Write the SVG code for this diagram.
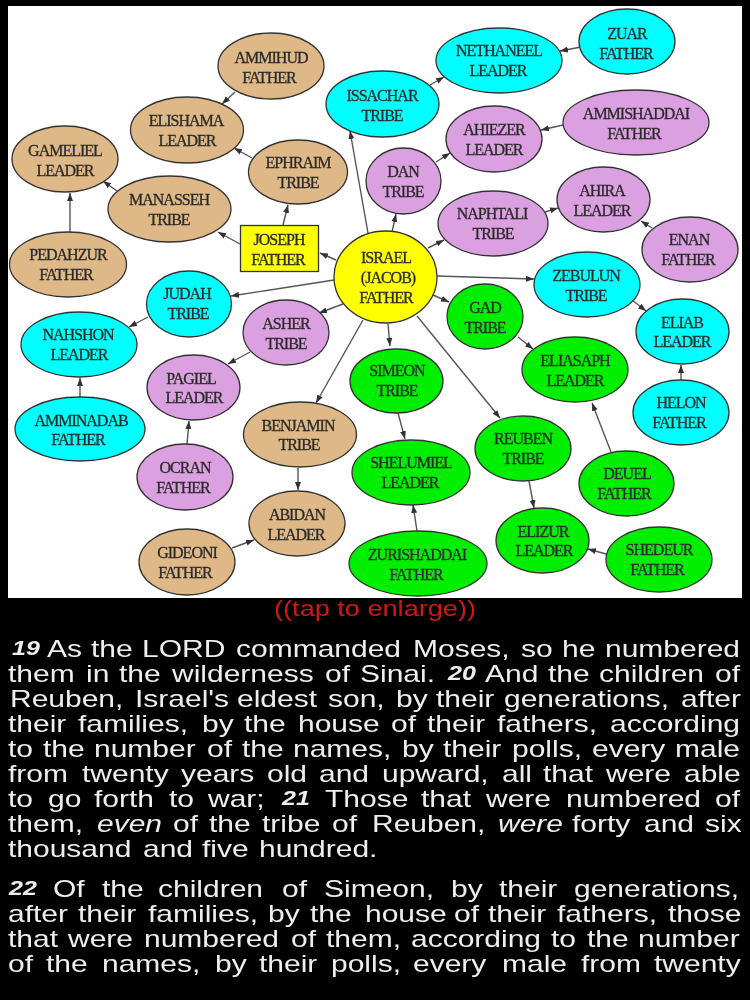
<svg xmlns="http://www.w3.org/2000/svg" width="750" height="1000" viewBox="0 0 750 1000">
<style>
.n{stroke:#333;stroke-width:1.3}
.tan{fill:#deb887}.cy{fill:#0ff}.pl{fill:#dba0e0}.gr{fill:#0e0}.ye{fill:#ff0}
.l{font-family:"Liberation Serif",serif;font-size:16px;letter-spacing:-1px;text-anchor:middle;fill:#2a2a2a;stroke:#2a2a2a;stroke-width:.3}
.e{fill:none;stroke:#555;stroke-width:1.4;marker-end:url(#a)}
.b{font-family:"Liberation Sans",Arial,sans-serif;font-size:24px;fill:#eee}
.v{font-weight:bold;font-style:italic;font-size:20px}
.i{font-style:italic}
</style>
<defs>
<marker id="a" markerUnits="userSpaceOnUse" markerWidth="9" markerHeight="8" refX="8" refY="4" orient="auto"><path d="M0 1L8 4L0 7z" fill="#333"/></marker>
<filter id="s" x="-2%" y="-2%" width="104%" height="104%"><feGaussianBlur stdDeviation="0.5"/></filter>
</defs>
<rect width="750" height="1000" fill="#000"/>
<rect x="8" y="6" width="734" height="592" fill="#fff"/>
<g filter="url(#s)">
<g id="connectors">
<path class="e" d="M235 92L222 104"/><path class="e" d="M252 158L234 148"/><path class="e" d="M117 191L103 181"/><path class="e" d="M70 232L70 193"/>
<path class="e" d="M240 244L218 232"/><path class="e" d="M283 225L288 205"/><path class="e" d="M336 260L320 253"/><path class="e" d="M334 280L231 296"/>
<path class="e" d="M148 317L129 327"/><path class="e" d="M368 233L350 131"/><path class="e" d="M430 85L444 77"/><path class="e" d="M581 47L560 51"/>
<path class="e" d="M436 162L450 153"/><path class="e" d="M563 125L541 130"/><path class="e" d="M392 232L396 214"/><path class="e" d="M428 248L444 240"/>
<path class="e" d="M545 212L558 208"/><path class="e" d="M652 228L641 221"/><path class="e" d="M437 276L534 279"/><path class="e" d="M632 300L646 311"/>
<path class="e" d="M681 380L681 365"/><path class="e" d="M433 295L449 302"/><path class="e" d="M518 337L533 349"/><path class="e" d="M611 452L592 403"/>
<path class="e" d="M417 316L500 418"/><path class="e" d="M529 481L534 508"/><path class="e" d="M606 554L588 549"/><path class="e" d="M388 324L390 346"/>
<path class="e" d="M398 413L405 439"/><path class="e" d="M417 531L413 505"/><path class="e" d="M343 304L319 313"/><path class="e" d="M250 352L228 364"/>
<path class="e" d="M363 320L316 403"/><path class="e" d="M187 444L189 421"/><path class="e" d="M298 468L298 490"/><path class="e" d="M232 548L254 540"/>
<path class="e" d="M80 397L80 378"/>
</g>
<g id="ammihud"><ellipse class="n tan" cx="271" cy="66" rx="53" ry="33"/><text class="l" x="271" y="63">AMMIHUD</text><text class="l" x="269" y="83">FATHER</text></g>
<g id="elishama"><ellipse class="n tan" cx="187" cy="130" rx="56.5" ry="33"/><text class="l" x="186" y="126">ELISHAMA</text><text class="l" x="187" y="146">LEADER</text></g>
<g id="gameliel"><ellipse class="n tan" cx="65" cy="159" rx="53" ry="33"/><text class="l" x="65" y="156">GAMELIEL</text><text class="l" x="65" y="176">LEADER</text></g>
<g id="ephraim"><ellipse class="n tan" cx="298" cy="172" rx="49.5" ry="32"/><text class="l" x="298" y="168">EPHRAIM</text><text class="l" x="298" y="188">TRIBE</text></g>
<g id="manasseh"><ellipse class="n tan" cx="169.500" cy="209" rx="61.500" ry="33"/><text class="l" x="169" y="205">MANASSEH</text><text class="l" x="169" y="225">TRIBE</text></g>
<g id="pedahzur"><ellipse class="n tan" cx="68" cy="264.500" rx="58.500" ry="32.500"/><text class="l" x="68" y="260">PEDAHZUR</text><text class="l" x="66" y="280">FATHER</text></g>
<g id="joseph"><rect class="n ye" x="240.500" y="225.500" width="78" height="46"/><text class="l" x="279" y="245">JOSEPH</text><text class="l" x="278" y="265">FATHER</text></g>
<g id="israel"><ellipse class="n ye" cx="385.500" cy="277" rx="51.500" ry="46"/><text class="l" x="386" y="263">ISRAEL</text><text class="l" x="388" y="283">(JACOB)</text><text class="l" x="386" y="303">FATHER</text></g>
<g id="judah"><ellipse class="n cy" cx="189" cy="304" rx="42.500" ry="33"/><text class="l" x="187" y="299">JUDAH</text><text class="l" x="188" y="319">TRIBE</text></g>
<g id="nahshon"><ellipse class="n cy" cx="79" cy="344.500" rx="58" ry="32.500"/><text class="l" x="78" y="340">NAHSHON</text><text class="l" x="79" y="360">LEADER</text></g>
<g id="asher"><ellipse class="n pl" cx="286" cy="332.500" rx="43" ry="32.500"/><text class="l" x="286" y="329">ASHER</text><text class="l" x="286" y="349">TRIBE</text></g>
<g id="pagiel"><ellipse class="n pl" cx="193.500" cy="387.500" rx="46.500" ry="32.500"/><text class="l" x="191" y="384">PAGIEL</text><text class="l" x="194" y="403">LEADER</text></g>
<g id="amminadab"><ellipse class="n cy" cx="80" cy="429" rx="65" ry="32"/><text class="l" x="81" y="426">AMMINADAB</text><text class="l" x="78" y="445">FATHER</text></g>
<g id="benjamin"><ellipse class="n tan" cx="300" cy="434.500" rx="56.500" ry="32.500"/><text class="l" x="298" y="431">BENJAMIN</text><text class="l" x="299" y="450">TRIBE</text></g>
<g id="ocran"><ellipse class="n pl" cx="185" cy="477" rx="48" ry="33"/><text class="l" x="185" y="473">OCRAN</text><text class="l" x="183" y="493">FATHER</text></g>
<g id="abidan"><ellipse class="n tan" cx="297" cy="523.500" rx="48" ry="32.500"/><text class="l" x="297" y="520">ABIDAN</text><text class="l" x="296" y="540">LEADER</text></g>
<g id="gideoni"><ellipse class="n tan" cx="187" cy="562" rx="48" ry="33"/><text class="l" x="187" y="558">GIDEONI</text><text class="l" x="185" y="578">FATHER</text></g>
<g id="zuar"><ellipse class="n cy" cx="627" cy="41.500" rx="48" ry="32.500"/><text class="l" x="627" y="39">ZUAR</text><text class="l" x="626" y="59">FATHER</text></g>
<g id="nethaneel"><ellipse class="n cy" cx="499" cy="60.500" rx="63" ry="32.500"/><text class="l" x="499" y="56">NETHANEEL</text><text class="l" x="498" y="76">LEADER</text></g>
<g id="issachar"><ellipse class="n cy" cx="382.500" cy="104" rx="56.500" ry="33"/><text class="l" x="382" y="101">ISSACHAR</text><text class="l" x="382" y="121">TRIBE</text></g>
<g id="ammishaddai"><ellipse class="n pl" cx="636" cy="122.500" rx="73" ry="32.500"/><text class="l" x="636" y="119">AMMISHADDAI</text><text class="l" x="634" y="139">FATHER</text></g>
<g id="ahiezer"><ellipse class="n pl" cx="494" cy="139" rx="48" ry="33"/><text class="l" x="494" y="135">AHIEZER</text><text class="l" x="494" y="155">LEADER</text></g>
<g id="dan"><ellipse class="n pl" cx="403.500" cy="181" rx="37.500" ry="33"/><text class="l" x="403" y="177">DAN</text><text class="l" x="403" y="197">TRIBE</text></g>
<g id="naphtali"><ellipse class="n pl" cx="493" cy="223.500" rx="55" ry="32.500"/><text class="l" x="492" y="219">NAPHTALI</text><text class="l" x="493" y="239">TRIBE</text></g>
<g id="ahira"><ellipse class="n pl" cx="603.500" cy="199.500" rx="46.500" ry="32.500"/><text class="l" x="602" y="196">AHIRA</text><text class="l" x="602" y="216">LEADER</text></g>
<g id="enan"><ellipse class="n pl" cx="690" cy="249.500" rx="48" ry="32.500"/><text class="l" x="689" y="245">ENAN</text><text class="l" x="688" y="265">FATHER</text></g>
<g id="zebulun"><ellipse class="n cy" cx="587" cy="284.500" rx="53" ry="32.500"/><text class="l" x="586" y="281">ZEBULUN</text><text class="l" x="586" y="301">TRIBE</text></g>
<g id="eliab"><ellipse class="n cy" cx="682.500" cy="331.500" rx="46.500" ry="32.500"/><text class="l" x="682" y="328">ELIAB</text><text class="l" x="682" y="347">LEADER</text></g>
<g id="helon"><ellipse class="n cy" cx="681" cy="412.500" rx="48" ry="32.500"/><text class="l" x="681" y="408">HELON</text><text class="l" x="679" y="428">FATHER</text></g>
<g id="gad"><ellipse class="n gr" cx="485" cy="316.500" rx="38" ry="32.500"/><text class="l" x="485" y="313">GAD</text><text class="l" x="485" y="333">TRIBE</text></g>
<g id="eliasaph"><ellipse class="n gr" cx="575" cy="369.500" rx="53" ry="32.500"/><text class="l" x="575" y="366">ELIASAPH</text><text class="l" x="575" y="386">LEADER</text></g>
<g id="simeon"><ellipse class="n gr" cx="396.500" cy="381" rx="46.500" ry="32"/><text class="l" x="397" y="376">SIMEON</text><text class="l" x="397" y="396">TRIBE</text></g>
<g id="shelumiel"><ellipse class="n gr" cx="411" cy="472.500" rx="59" ry="32.500"/><text class="l" x="411" y="468">SHELUMIEL</text><text class="l" x="410" y="488">LEADER</text></g>
<g id="reuben"><ellipse class="n gr" cx="523" cy="448.500" rx="48" ry="32.500"/><text class="l" x="523" y="444">REUBEN</text><text class="l" x="523" y="464">TRIBE</text></g>
<g id="deuel"><ellipse class="n gr" cx="626.500" cy="483.500" rx="47.500" ry="32.500"/><text class="l" x="627" y="479">DEUEL</text><text class="l" x="624" y="499">FATHER</text></g>
<g id="zurishaddai"><ellipse class="n gr" cx="418" cy="563.500" rx="69" ry="32.500"/><text class="l" x="417" y="560">ZURISHADDAI</text><text class="l" x="416" y="580">FATHER</text></g>
<g id="elizur"><ellipse class="n gr" cx="542.500" cy="540.500" rx="46.500" ry="32.500"/><text class="l" x="543" y="537">ELIZUR</text><text class="l" x="544" y="556">LEADER</text></g>
<g id="shedeur"><ellipse class="n gr" cx="659" cy="559.500" rx="53" ry="32.500"/><text class="l" x="659" y="555">SHEDEUR</text><text class="l" x="657" y="575">FATHER</text></g>
<text transform="translate(375 616) scale(1.25 1)" text-anchor="middle" font-family="Liberation Sans,Arial,sans-serif" font-size="21.700" fill="#d01818">((tap to enlarge))</text>
<g id="verses" transform="scale(1.25 1)">
<text class="b" y="657"><tspan class="v" x="9.600" y="655">19</tspan> <tspan x="37.600" y="657">As</tspan> <tspan x="72.800">the</tspan> <tspan x="113.600">LORD</tspan> <tspan x="188.800">commanded</tspan> <tspan x="330.400">Moses,</tspan> <tspan x="416.800">so</tspan> <tspan x="449.600">he</tspan> <tspan x="484">numbered</tspan></text>
<text class="b" y="682"><tspan x="6.400">them</tspan> <tspan x="68.800">in</tspan> <tspan x="95.200">the</tspan> <tspan x="137.600">wilderness</tspan> <tspan x="260">of</tspan> <tspan x="288">Sinai.</tspan> <tspan class="v" x="358.400" y="680">20</tspan> <tspan x="388" y="682">And</tspan> <tspan x="438.400">the</tspan> <tspan x="479.200">children</tspan> <tspan x="572">of</tspan></text>
<text class="b" y="707"><tspan x="8">Reuben,</tspan> <tspan x="108">Israel's</tspan> <tspan x="189.600">eldest</tspan> <tspan x="262.400">son,</tspan> <tspan x="316.800">by</tspan> <tspan x="348.800">their</tspan> <tspan x="403.200">generations,</tspan> <tspan x="544.800">after</tspan></text>
<text class="b" y="732"><tspan x="6.400">their</tspan> <tspan x="62.400">families,</tspan> <tspan x="161.600">by</tspan> <tspan x="195.200">the</tspan> <tspan x="238.400">house</tspan> <tspan x="312.800">of</tspan> <tspan x="341.600">their</tspan> <tspan x="397.600">fathers,</tspan> <tspan x="488">according</tspan></text>
<text class="b" y="757"><tspan x="6.400">to</tspan> <tspan x="34.400">the</tspan> <tspan x="75.200">number</tspan> <tspan x="165.600">of</tspan> <tspan x="193.600">the</tspan> <tspan x="234.400">names,</tspan> <tspan x="321.600">by</tspan> <tspan x="354.400">their</tspan> <tspan x="409.600">polls,</tspan> <tspan x="473.600">every</tspan> <tspan x="540">male</tspan></text>
<text class="b" y="782"><tspan x="6.400">from</tspan> <tspan x="65.600">twenty</tspan> <tspan x="144.800">years</tspan> <tspan x="213.600">old</tspan> <tspan x="255.200">and</tspan> <tspan x="305.600">upward,</tspan> <tspan x="401.600">all</tspan> <tspan x="434.400">that</tspan> <tspan x="484.800">were</tspan> <tspan x="547.200">able</tspan></text>
<text class="b" y="807"><tspan x="6.400">to</tspan> <tspan x="38.400">go</tspan> <tspan x="75.200">forth</tspan> <tspan x="135.200">to</tspan> <tspan x="166.400">war;</tspan> <tspan class="v" x="225.600" y="805">21</tspan> <tspan x="260" y="807">Those</tspan> <tspan x="336.800">that</tspan> <tspan x="388.800">were</tspan> <tspan x="452.800">numbered</tspan> <tspan x="572">of</tspan></text>
<text class="b" y="832"><tspan x="6.400">them,</tspan> <tspan class="i" x="77.600">even</tspan> <tspan x="138.400">of</tspan> <tspan x="167.200">the</tspan> <tspan x="209.600">tribe</tspan> <tspan x="265.600">of</tspan> <tspan x="297.600">Reuben,</tspan> <tspan class="i" x="398.400">were</tspan> <tspan x="457.600">forty</tspan> <tspan x="515.200">and</tspan> <tspan x="564">six</tspan></text>
<text class="b" y="857"><tspan x="6.400">thousand</tspan> <tspan x="114.400">and</tspan> <tspan x="161.600">five</tspan> <tspan x="207.200">hundred.</tspan></text>
<text class="b" y="897"><tspan class="v" x="7.200" y="895">22</tspan> <tspan x="42.400" y="897">Of</tspan> <tspan x="81.600">the</tspan> <tspan x="126.400">children</tspan> <tspan x="225.600">of</tspan> <tspan x="259.200">Simeon,</tspan> <tspan x="360.800">by</tspan> <tspan x="399.200">their</tspan> <tspan x="459.200">generations,</tspan></text>
<text class="b" y="922"><tspan x="6.400">after</tspan> <tspan x="62.400">their</tspan> <tspan x="118.400">families,</tspan> <tspan x="214.400">by</tspan> <tspan x="248">the</tspan> <tspan x="292">house</tspan> <tspan x="363.200">of</tspan> <tspan x="390.400">their</tspan> <tspan x="445.600">fathers,</tspan> <tspan x="534.400">those</tspan></text>
<text class="b" y="947"><tspan x="6.400">that</tspan> <tspan x="54.400">were</tspan> <tspan x="115.200">numbered</tspan> <tspan x="232.800">of</tspan> <tspan x="260.800">them,</tspan> <tspan x="328.800">according</tspan> <tspan x="440.800">to</tspan> <tspan x="469.600">the</tspan> <tspan x="510.400">number</tspan></text>
<text class="b" y="972"><tspan x="6.400">of</tspan> <tspan x="36.800">the</tspan> <tspan x="81.600">names,</tspan> <tspan x="172">by</tspan> <tspan x="207.200">their</tspan> <tspan x="264.800">polls,</tspan> <tspan x="330.400">every</tspan> <tspan x="401.600">male</tspan> <tspan x="464.800">from</tspan> <tspan x="523.200">twenty</tspan></text>
</g>
</g>
</svg>
